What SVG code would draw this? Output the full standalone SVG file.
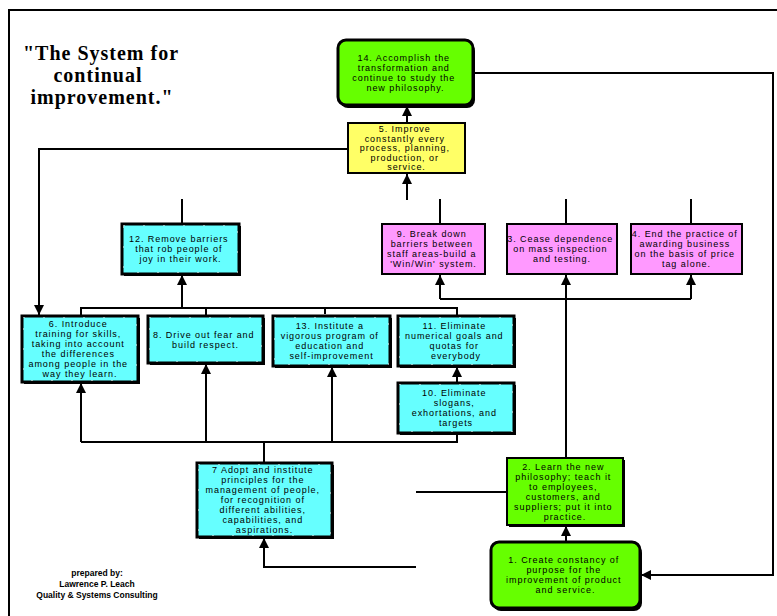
<svg xmlns="http://www.w3.org/2000/svg" width="777" height="616" viewBox="0 0 777 616">
  <style>
    .ln { stroke: #000; stroke-width: 2; fill: none; }
    .arr { marker-end: url(#ah); }
    .sh { fill: #000; }
    .cy { fill: #66ffff; stroke: #000; stroke-width: 3; }
    .dots { fill: none; stroke: #fff; stroke-width: 1; stroke-dasharray: 1 19; }
    .pk { fill: #ff99ff; stroke: #000; stroke-width: 2; }
    .yl { fill: #ffff66; stroke: #000; stroke-width: 2; }
    .gr { fill: #66ff00; stroke: #000; stroke-width: 3; }
    .gr2 { fill: #66ff00; stroke: #000; stroke-width: 2; }
    .t { font-family: "Liberation Sans", Arial, sans-serif; font-size: 9px; letter-spacing: 0.95px; text-anchor: middle; fill: #000; }
    .title { font-family: "Liberation Serif", "Times New Roman", serif; font-size: 20px; font-weight: bold; letter-spacing: 1px; text-anchor: middle; fill: #000; }
    .credit { font-family: "Liberation Sans", Arial, sans-serif; font-size: 8.5px; font-weight: bold; text-anchor: middle; fill: #000; }
  </style>
  <defs>
    <marker id="ah" viewBox="0 0 10 10" refX="10" refY="5" markerWidth="10" markerHeight="10" markerUnits="userSpaceOnUse" orient="auto">
      <path d="M0,0 L10,5 L0,10 Z" fill="#000"/>
    </marker>
  </defs>

  <rect width="777" height="616" fill="#fff"/>

  <!-- page frame -->
  <path class="ln" d="M9,616 V10 H777"/>

  <!-- title and credit -->
  <g id="title">
    <text class="title" x="101" y="60">"The System for</text>
    <text class="title" x="98" y="82">continual</text>
    <text class="title" x="102" y="104">improvement."</text>
  </g>
  <g id="credit">
    <text class="credit" x="97" y="576">prepared by:</text>
    <text class="credit" x="97" y="587">Lawrence P. Leach</text>
    <text class="credit" x="97" y="598">Quality &amp; Systems Consulting</text>
  </g>

  <!-- connectors -->
  <g id="connectors">
    <path class="ln arr" d="M473,73 H773 V575 H641"/>
    <path class="ln arr" d="M407,123 V106"/>
    <path class="ln arr" d="M407,200 V174"/>
    <path class="ln arr" d="M348,149 H39 V315"/>
    <path class="ln" d="M182,199 V224"/>
    <path class="ln" d="M440,199 V224"/>
    <path class="ln" d="M566,199 V224"/>
    <path class="ln" d="M691,199 V224"/>
    <path class="ln" d="M440,299 H691"/>
    <path class="ln arr" d="M440,299 V275"/>
    <path class="ln arr" d="M566,458 V275"/>
    <path class="ln arr" d="M691,299 V275"/>
    <path class="ln" d="M81,316 V308 H457 V316"/>
    <path class="ln" d="M206,308 V316"/>
    <path class="ln" d="M325,308 V314"/>
    <path class="ln arr" d="M182,308 V275"/>
    <path class="ln arr" d="M457,383 V367"/>
    <path class="ln" d="M457,433 V442 H81"/>
    <path class="ln arr" d="M81,442 V383"/>
    <path class="ln arr" d="M206,442 V364"/>
    <path class="ln arr" d="M332,442 V367"/>
    <path class="ln" d="M264,442 V463"/>
    <path class="ln arr" d="M416,567 H264 V538"/>
    <path class="ln" d="M416,492 H507"/>
    <path class="ln arr" d="M566,542 V526"/>
  </g>

  <!-- 14 -->
  <g id="n14">
    <rect class="sh" x="340" y="43" width="135" height="65" rx="8"/>
    <rect class="gr" x="338" y="40" width="135" height="65" rx="8"/>
    <text class="t" y="60.5">
      <tspan x="405.5">14. Accomplish the</tspan>
      <tspan x="405.5" dy="10">transformation and</tspan>
      <tspan x="405.5" dy="10">continue to study the</tspan>
      <tspan x="405.5" dy="10">new philosophy.</tspan>
    </text>
  </g>

  <!-- 5 -->
  <g id="n5">
    <rect class="yl" x="348" y="123" width="117" height="50"/>
    <text class="t" y="132">
      <tspan x="406.5">5. Improve</tspan>
      <tspan x="406.5" dy="9.6">constantly every</tspan>
      <tspan x="406.5" dy="9.6">process, planning,</tspan>
      <tspan x="406.5" dy="9.6">production, or</tspan>
      <tspan x="406.5" dy="9.6">service.</tspan>
    </text>
  </g>

  <!-- 12 -->
  <g id="n12">
    <rect class="sh" x="124" y="226" width="117" height="50"/>
    <rect class="cy" x="122" y="224" width="117" height="50"/>
    <rect class="dots" x="123.5" y="225.5" width="114" height="47"/>
    <text class="t" y="242">
      <tspan x="180.5">12. Remove barriers</tspan>
      <tspan x="180.5" dy="10">that rob people of</tspan>
      <tspan x="180.5" dy="10">joy in their work.</tspan>
    </text>
  </g>

  <!-- 9 -->
  <g id="n9">
    <rect class="pk" x="382" y="224" width="103" height="50"/>
    <text class="t" y="237">
      <tspan x="433.5">9. Break down</tspan>
      <tspan x="433.5" dy="10">barriers between</tspan>
      <tspan x="433.5" dy="10">staff areas-build a</tspan>
      <tspan x="433.5" dy="10">'Win/Win' system.</tspan>
    </text>
  </g>

  <!-- 3 -->
  <g id="n3">
    <rect class="pk" x="507" y="224" width="110" height="50"/>
    <text class="t" y="242">
      <tspan x="562">3. Cease dependence</tspan>
      <tspan x="562" dy="10">on mass inspection</tspan>
      <tspan x="562" dy="10">and testing.</tspan>
    </text>
  </g>

  <!-- 4 -->
  <g id="n4">
    <rect class="pk" x="631" y="224" width="111" height="50"/>
    <text class="t" y="237">
      <tspan x="686.5">4. End the practice of</tspan>
      <tspan x="686.5" dy="10">awarding business</tspan>
      <tspan x="686.5" dy="10">on the basis of price</tspan>
      <tspan x="686.5" dy="10">tag alone.</tspan>
    </text>
  </g>

  <!-- 6 -->
  <g id="n6">
    <rect class="sh" x="24" y="318" width="116" height="66"/>
    <rect class="cy" x="22" y="316" width="116" height="66"/>
    <rect class="dots" x="23.5" y="317.5" width="113" height="63"/>
    <text class="t" y="327">
      <tspan x="80">6. Introduce</tspan>
      <tspan x="80" dy="10">training for skills,</tspan>
      <tspan x="80" dy="10">taking into account</tspan>
      <tspan x="80" dy="10">the differences</tspan>
      <tspan x="80" dy="10">among people in the</tspan>
      <tspan x="80" dy="10">way they learn.</tspan>
    </text>
  </g>

  <!-- 8 -->
  <g id="n8">
    <rect class="sh" x="150" y="318" width="115" height="47"/>
    <rect class="cy" x="148" y="316" width="115" height="47"/>
    <rect class="dots" x="149.5" y="317.5" width="112" height="44"/>
    <text class="t" y="337.5">
      <tspan x="205.5">8. Drive out fear and</tspan>
      <tspan x="205.5" dy="10">build respect.</tspan>
    </text>
  </g>

  <!-- 13 -->
  <g id="n13">
    <rect class="sh" x="275" y="318" width="117" height="50"/>
    <rect class="cy" x="273" y="316" width="117" height="50"/>
    <rect class="dots" x="274.5" y="317.5" width="114" height="47"/>
    <text class="t" y="329">
      <tspan x="331.5">13. Institute a</tspan>
      <tspan x="331.5" dy="10">vigorous program of</tspan>
      <tspan x="331.5" dy="10">education and</tspan>
      <tspan x="331.5" dy="10">self-improvement</tspan>
    </text>
  </g>

  <!-- 11 -->
  <g id="n11">
    <rect class="sh" x="400" y="318" width="116" height="50"/>
    <rect class="cy" x="398" y="316" width="116" height="50"/>
    <rect class="dots" x="399.5" y="317.5" width="113" height="47"/>
    <text class="t" y="329">
      <tspan x="456">11. Eliminate</tspan>
      <tspan x="456" dy="10">numerical goals and</tspan>
      <tspan x="456" dy="10">quotas for</tspan>
      <tspan x="456" dy="10">everybody</tspan>
    </text>
  </g>

  <!-- 10 -->
  <g id="n10">
    <rect class="sh" x="400" y="385" width="116" height="50"/>
    <rect class="cy" x="398" y="383" width="116" height="50"/>
    <rect class="dots" x="399.5" y="384.5" width="113" height="47"/>
    <text class="t" y="396">
      <tspan x="456">10. Eliminate</tspan>
      <tspan x="456" dy="10">slogans,</tspan>
      <tspan x="456" dy="10">exhortations, and</tspan>
      <tspan x="456" dy="10">targets</tspan>
    </text>
  </g>

  <!-- 7 -->
  <g id="n7">
    <rect class="sh" x="199" y="465" width="135" height="74"/>
    <rect class="cy" x="197" y="463" width="135" height="74"/>
    <rect class="dots" x="198.5" y="464.5" width="132" height="71"/>
    <text class="t" y="473">
      <tspan x="264.5">7 Adopt and institute</tspan>
      <tspan x="264.5" dy="10">principles for the</tspan>
      <tspan x="264.5" dy="10">management of people,</tspan>
      <tspan x="264.5" dy="10">for recognition of</tspan>
      <tspan x="264.5" dy="10">different abilities,</tspan>
      <tspan x="264.5" dy="10">capabilities, and</tspan>
      <tspan x="264.5" dy="10">aspirations.</tspan>
    </text>
  </g>

  <!-- 2 -->
  <g id="n2">
    <rect class="sh" x="509" y="460" width="116" height="67"/>
    <rect class="gr2" x="507" y="458" width="116" height="67"/>
    <text class="t" y="469.5">
      <tspan x="565">2. Learn the new</tspan>
      <tspan x="565" dy="10">philosophy; teach it</tspan>
      <tspan x="565" dy="10">to employees,</tspan>
      <tspan x="565" dy="10">customers, and</tspan>
      <tspan x="565" dy="10">suppliers; put it into</tspan>
      <tspan x="565" dy="10">practice.</tspan>
    </text>
  </g>

  <!-- 1 -->
  <g id="n1">
    <rect class="sh" x="493" y="545" width="149" height="66" rx="8"/>
    <rect class="gr" x="491" y="542" width="149" height="66" rx="8"/>
    <text class="t" y="563">
      <tspan x="565.5">1. Create constancy of</tspan>
      <tspan x="565.5" dy="10">purpose for the</tspan>
      <tspan x="565.5" dy="10">improvement of product</tspan>
      <tspan x="565.5" dy="10">and service.</tspan>
    </text>
  </g>
</svg>
